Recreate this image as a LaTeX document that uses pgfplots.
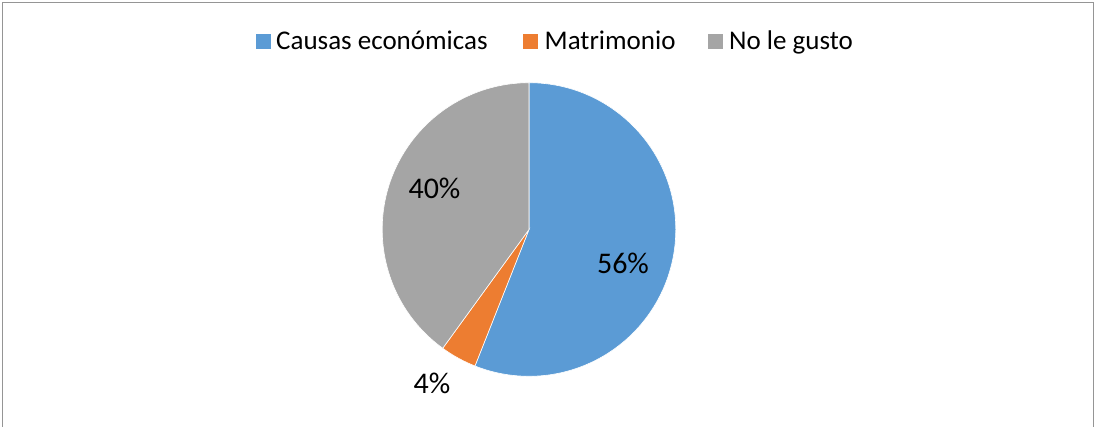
\documentclass[border=0pt]{standalone}
\usepackage{pgfplots}
\usepackage{pgfplotstable}
\pgfplotsset{compat=1.18}
\usepackage{fontspec}
\setmainfont{Carlito}
\definecolor{cblue}{HTML}{5B9BD5}
\definecolor{corange}{HTML}{ED7D31}
\definecolor{cgray}{HTML}{A5A5A5}
\definecolor{frame}{HTML}{959595}

\pgfplotstableread{
label value
Causas 56
Matrimonio 4
Gusto 40
}\piedata

\begin{document}
\begin{tikzpicture}
\pgfplotstablegetelem{0}{value}\of\piedata \let\va\pgfplotsretval
\pgfplotstablegetelem{1}{value}\of\piedata \let\vb\pgfplotsretval
\pgfplotstablegetelem{2}{value}\of\piedata \let\vc\pgfplotsretval
\pgfmathsetmacro{\aA}{90-3.6*\va}
\pgfmathsetmacro{\aB}{\aA-3.6*\vb}
\pgfmathsetmacro{\aC}{\aB-3.6*\vc}
\begin{axis}[
  width=1095pt, height=427pt, scale only axis,
  xmin=0, xmax=1095, ymin=0, ymax=427,
  hide axis, clip=false,
]
\def\cx{529}\def\cy{197.5}\def\R{146.8pt}
% slices
\fill[cblue, draw=white, line width=0.6pt] (axis cs:\cx,\cy) -- ++(90:\R) arc[start angle=90, end angle=\aA, radius=\R] -- cycle;
\fill[corange, draw=white, line width=0.6pt] (axis cs:\cx,\cy) -- ++(\aA:\R) arc[start angle=\aA, end angle=\aB, radius=\R] -- cycle;
\fill[cgray, draw=white, line width=0.6pt] (axis cs:\cx,\cy) -- ++(\aB:\R) arc[start angle=\aB, end angle=\aC, radius=\R] -- cycle;
% data labels
\node[anchor=base, inner sep=0pt, font=\fontsize{30}{36}\selectfont] at (axis cs:623,153) {\va\%};
\node[anchor=base, inner sep=0pt, font=\fontsize{30}{36}\selectfont] at (axis cs:434.5,228) {\vc\%};
\node[anchor=base, inner sep=0pt, font=\fontsize{30}{36}\selectfont] at (axis cs:432,33) {\vb\%};
% legend
\fill[cblue] (axis cs:256,378) rectangle (axis cs:270.7,392.7);
\node[anchor=base west, inner sep=0pt, font=\fontsize{27}{32}\selectfont] at (axis cs:276,377) {Causas económicas};
\fill[corange] (axis cs:523.4,378) rectangle (axis cs:538,392.7);
\node[anchor=base west, inner sep=0pt, font=\fontsize{27}{32}\selectfont] at (axis cs:544.5,377) {Matrimonio};
\fill[cgray] (axis cs:708.3,378) rectangle (axis cs:723,392.7);
\node[anchor=base west, inner sep=0pt, font=\fontsize{27}{32}\selectfont] at (axis cs:729,377) {No le gusto};
% frame
\draw[frame, line width=1.5pt] (axis cs:2.5,0) -- (axis cs:2.5,424.5) -- (axis cs:1093.5,424.5) -- (axis cs:1093.5,0);
\path (axis cs:0,0) rectangle (axis cs:1095,427);
\end{axis}
\end{tikzpicture}
\end{document}
